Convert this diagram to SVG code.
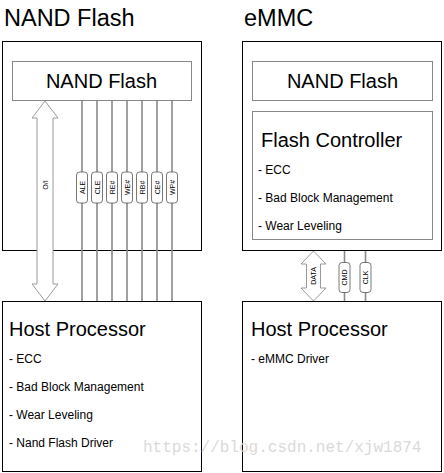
<svg xmlns="http://www.w3.org/2000/svg" width="444" height="473" viewBox="0 0 444 473">
<style>
text{font-family:"Liberation Sans",Arial,sans-serif;fill:#000}
.title{font-size:23.5px}
.h{font-size:20px}
.li{font-size:12px}
.outer{fill:#fff;stroke:#000;stroke-width:1}
.inner{fill:#fff;stroke:#888;stroke-width:1}
.sig{stroke:#8a8a8a;stroke-width:1.6;fill:none}
.tag{fill:#fff;stroke:#555;stroke-width:0.8}
.tagt{font-size:7px;text-anchor:middle;dominant-baseline:central}
.arrow{fill:#fff;stroke:#9a9a9a;stroke-width:1}
.wm{font-family:"Liberation Mono","DejaVu Sans Mono",monospace;font-size:16px;fill:#dadada}
</style>
<rect width="444" height="473" fill="#fff"/>
<text class="title" x="4" y="26">NAND Flash</text>
<text class="title" x="244" y="26">eMMC</text>

<g id="left-nand-chip">
<rect class="outer" x="2.5" y="41.5" width="199" height="209"/>
<rect class="inner" x="12.5" y="61.5" width="179" height="39"/>
<text class="h" x="101.5" y="87.5" text-anchor="middle">NAND Flash</text>
</g>

<g id="left-host">
<rect class="outer" x="2.5" y="301.5" width="199" height="170"/>
<text class="h" x="9" y="336">Host Processor</text>
<text class="li" x="9" y="363">- ECC</text>
<text class="li" x="9" y="391">- Bad Block Management</text>
<text class="li" x="9" y="419">- Wear Leveling</text>
<text class="li" x="9" y="447">- Nand Flash Driver</text>
</g>

<g id="right-emmc">
<rect class="outer" x="242.5" y="41.5" width="199" height="209"/>
<rect class="inner" x="252.5" y="61.5" width="180" height="39"/>
<text class="h" x="342.5" y="87.5" text-anchor="middle">NAND Flash</text>
<rect class="inner" x="252.5" y="111.5" width="180" height="128"/>
<text class="h" x="261" y="147">Flash Controller</text>
<text class="li" x="258" y="174">- ECC</text>
<text class="li" x="258" y="202">- Bad Block Management</text>
<text class="li" x="258" y="230">- Wear Leveling</text>
</g>

<g id="right-host">
<rect class="outer" x="242.5" y="301.5" width="199" height="170"/>
<text class="h" x="251" y="336">Host Processor</text>
<text class="li" x="251" y="363">- eMMC Driver</text>
</g>

<g id="connectors">
<path class="arrow" d="M45,101 L58,118 L53,118 L53,284 L58,284 L45,301 L32,284 L37,284 L37,118 L32,118 Z"/>
<text class="tagt" transform="translate(45,185) rotate(90)">I/O</text>
<g>
<line class="sig" x1="82" y1="101" x2="82" y2="301"/>
<line class="sig" x1="97" y1="101" x2="97" y2="301"/>
<line class="sig" x1="112" y1="101" x2="112" y2="301"/>
<line class="sig" x1="127" y1="101" x2="127" y2="301"/>
<line class="sig" x1="142" y1="101" x2="142" y2="301"/>
<line class="sig" x1="157" y1="101" x2="157" y2="301"/>
<line class="sig" x1="172" y1="101" x2="172" y2="301"/>
<rect class="tag" x="76.5" y="172" width="11" height="31" rx="3"/>
<rect class="tag" x="91.5" y="172" width="11" height="31" rx="3"/>
<rect class="tag" x="106.5" y="172" width="11" height="31" rx="3"/>
<rect class="tag" x="121.5" y="172" width="11" height="31" rx="3"/>
<rect class="tag" x="136.5" y="172" width="11" height="31" rx="3"/>
<rect class="tag" x="151.5" y="172" width="11" height="31" rx="3"/>
<rect class="tag" x="166.5" y="172" width="11" height="31" rx="3"/>
<text class="tagt" transform="translate(82,187.5) rotate(-90)">ALE</text>
<text class="tagt" transform="translate(97,187.5) rotate(-90)">CLE</text>
<text class="tagt" transform="translate(112,187.5) rotate(-90)">RE#</text>
<text class="tagt" transform="translate(127,187.5) rotate(-90)">WE#</text>
<text class="tagt" transform="translate(142,187.5) rotate(-90)">RB#</text>
<text class="tagt" transform="translate(157,187.5) rotate(-90)">CE#</text>
<text class="tagt" transform="translate(172,187.5) rotate(-90)">WP#</text>
</g>
<path class="arrow" d="M313.5,251 L326,264 L320.5,264 L320.5,288 L326,288 L313.5,301 L301,288 L306.5,288 L306.5,264 L301,264 Z"/>
<text class="tagt" transform="translate(313.5,276) rotate(-90)">DATA</text>
<line class="sig" x1="344.5" y1="251" x2="344.5" y2="301"/>
<line class="sig" x1="365.5" y1="251" x2="365.5" y2="301"/>
<rect class="tag" x="339" y="262.5" width="11" height="30" rx="3"/>
<rect class="tag" x="360" y="262.5" width="11" height="30" rx="3"/>
<text class="tagt" transform="translate(344.5,277.5) rotate(-90)">CMD</text>
<text class="tagt" transform="translate(365.5,277.5) rotate(-90)">CLK</text>
</g>

<text class="wm" x="143" y="452">https://blog.csdn.net/xjw1874</text>
</svg>
